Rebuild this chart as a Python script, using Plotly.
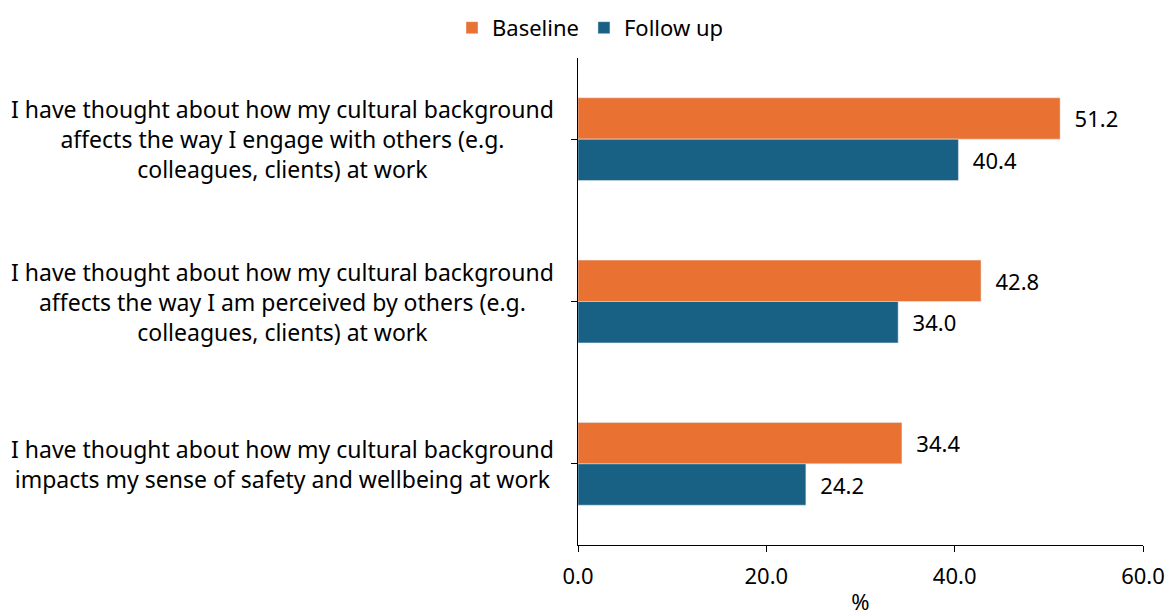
import plotly.graph_objects as go

categories = [
    "I have thought about how my cultural background<br>affects the way I engage with others (e.g.<br>colleagues, clients) at work",
    "I have thought about how my cultural background<br>affects the way I am perceived by others (e.g.<br>colleagues, clients) at work",
    "I have thought about how my cultural background<br>impacts my sense of safety and wellbeing at work",
]
baseline = [51.2, 42.8, 34.4]
follow_up = [40.4, 34.0, 24.2]
x_ticks = [0, 20, 40, 60]

FONT = "Noto Sans"
ORANGE = "#E97132"
BLUE = "#196184"
FS = 22

fig = go.Figure()
fig.add_trace(go.Bar(
    y=categories, x=baseline, name="Baseline", orientation="h",
    marker=dict(color=ORANGE),
    text=baseline, texttemplate="\u00a0\u00a0%{x:.1f}", textposition="outside",
    textfont=dict(family=FONT, size=FS, color="#000"),
))
fig.add_trace(go.Bar(
    y=categories, x=follow_up, name="Follow up", orientation="h",
    marker=dict(color=BLUE),
    text=follow_up, texttemplate="\u00a0\u00a0%{x:.1f}", textposition="outside",
    textfont=dict(family=FONT, size=FS, color="#000"),
))

for c in categories:
    fig.add_annotation(
        x=-0.523, xref="paper", y=c, yref="y", text=c, showarrow=False,
        xanchor="center", yanchor="middle", align="center",
        font=dict(family=FONT, size=23, color="#000"),
    )

fig.update_layout(
    width=1165, height=608,
    margin=dict(l=570, r=30, t=50, b=71, autoexpand=False),
    paper_bgcolor="white", plot_bgcolor="white",
    barmode="group", bargap=0.49, bargroupgap=0,
    font=dict(family=FONT, size=FS, color="#000"),
    showlegend=True,
    legend=dict(orientation="h", x=0.5, xref="container", xanchor="center",
                y=1.105, yref="paper", yanchor="top", traceorder="normal",
                font=dict(family=FONT, size=FS)),
    xaxis=dict(range=[0, 60], tickvals=x_ticks, ticktext=[f"{v:.1f}" for v in x_ticks],
               showgrid=False, zeroline=False, showline=True, linecolor="#000", linewidth=1,
               ticks="outside", ticklen=6, tickcolor="#000",
               tickfont=dict(family=FONT, size=FS), ticklabelstandoff=6,
               title=dict(text="%", font=dict(family=FONT, size=FS), standoff=10)),
    yaxis=dict(autorange="reversed", showticklabels=False, showgrid=False,
               showline=True, linecolor="#000", linewidth=1,
               ticks="outside", ticklen=6, tickcolor="#000"),
)

fig.write_html("out.html")
